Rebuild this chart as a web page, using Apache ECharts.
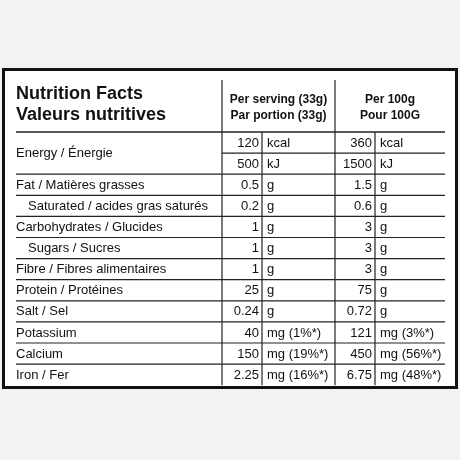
<!DOCTYPE html><html><head><meta charset="utf-8"><script src="https://cdn.jsdelivr.net/npm/echarts@6/dist/echarts.min.js"></script>
<style>html,body{margin:0;background:#f2f2f2}#c{width:460px;height:460px}</style></head><body><div id="c"></div><script>
const labels=["Energy / Énergie","","Fat / Matières grasses","Saturated / acides gras saturés","Carbohydrates / Glucides","Sugars / Sucres","Fibre / Fibres alimentaires","Protein / Protéines","Salt / Sel","Potassium","Calcium","Iron / Fer"];
const indent=[0,0,0,1,0,1,0,0,0,0,0,0];
const servingVals=["120","500","0.5","0.2","1","1","1","25","0.24","40","150","2.25"];
const servingUnits=["kcal","kJ","g","g","g","g","g","g","g","mg (1%*)","mg (19%*)","mg (16%*)"];
const per100Vals=["360","1500","1.5","0.6","3","3","3","75","0.72","121","450","6.75"];
const per100Units=["kcal","kJ","g","g","g","g","g","g","g","mg (3%*)","mg (56%*)","mg (48%*)"];
const F='"Liberation Sans", Arial, sans-serif';
const X0=16,X1=445,C1=222,C2=262,C3=335,C4=375;
const yTop=80,yHead=132,rowH=21.1;
const g=[];
g.push({type:'rect',shape:{x:3.5,y:69.5,width:453,height:318},style:{fill:'#fff',stroke:'#111',lineWidth:3}});
const line=(x1,y1,x2,y2,w)=>g.push({type:'line',shape:{x1,y1,x2,y2},style:{stroke:'#222',lineWidth:w||1.2}});
const txt=(x,y,t,o)=>g.push({type:'text',x,y,style:Object.assign({text:t,font:'13px '+F,fill:'#111',verticalAlign:'middle'},o||{})});
txt(X0,94,'Nutrition Facts',{font:'bold 18px '+F});
txt(X0,115,'Valeurs nutritives',{font:'bold 18px '+F});
txt((C1+C3)/2,100,'Per serving (33g)',{font:'bold 12px '+F,align:'center'});
txt((C1+C3)/2,116,'Par portion (33g)',{font:'bold 12px '+F,align:'center'});
txt((C3+X1)/2,100,'Per 100g',{font:'bold 12px '+F,align:'center'});
txt((C3+X1)/2,116,'Pour 100G',{font:'bold 12px '+F,align:'center'});
line(X0,yHead,X1,yHead,1.5);
const yEnd=yHead+rowH*labels.length;
[C1,C3].forEach(x=>line(x,yTop,x,yEnd));
[C2,C4].forEach(x=>line(x,yHead,x,yEnd));
labels.forEach((l,i)=>{
  const y0=yHead+rowH*i, yc=y0+rowH/2+0.5;
  if(i>0) line(i===1?C1:X0,y0,X1,y0);
  if(i===0) txt(X0,y0+rowH,l);
  else if(l) txt(X0+(indent[i]?12:0),yc,l);
  txt(C2-3,yc,servingVals[i],{align:'right'});
  txt(C2+5,yc,servingUnits[i]);
  txt(C4-3,yc,per100Vals[i],{align:'right'});
  txt(C4+5,yc,per100Units[i]);
});
const ch=echarts.init(document.getElementById('c'));
ch.setOption({backgroundColor:'#f2f2f2',graphic:g});
</script></body></html>
